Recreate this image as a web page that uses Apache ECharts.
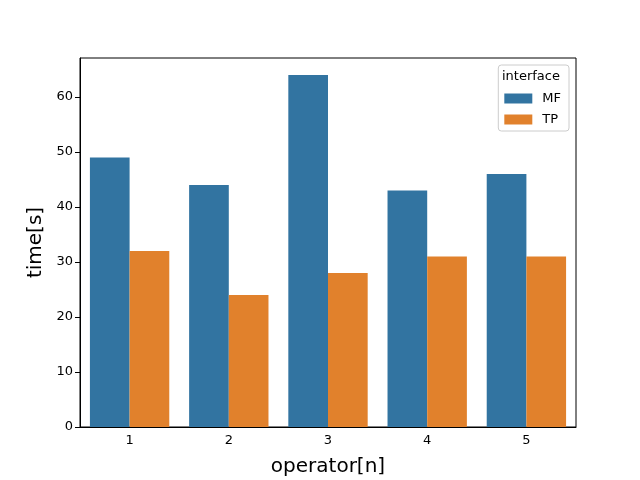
<!DOCTYPE html>
<html>
<head>
<meta charset="utf-8">
<script src="https://cdn.jsdelivr.net/npm/echarts@6/dist/echarts.min.js"></script>
<style>
  html, body { margin: 0; padding: 0; background: #fff; }
  #chart { width: 640px; height: 480px; }
</style>
</head>
<body>
<div id="chart"></div>
<script>
const operators = ['1', '2', '3', '4', '5'];
const mfTimes = [49, 44, 64, 43, 46];
const tpTimes = [32, 24, 28, 31, 31];
const yTicks = [0, 10, 20, 30, 40, 50, 60];

const font = 'DejaVu Sans';
const chart = echarts.init(document.getElementById('chart'));

chart.setOption({
    animation: false,
    textStyle: { fontFamily: font },
    grid: {
        left: 80, right: 64, top: 58, bottom: 53,
        outerBoundsMode: 'none',
        show: true, borderColor: '#000', borderWidth: 1
    },
    title: {
        text: 'interface',
        left: 502, top: 70,
        padding: 0,
        textStyle: { fontFamily: font, fontSize: 13, fontWeight: 'normal', color: '#000' }
    },
    legend: {
        orient: 'vertical',
        right: 71, top: 65,
        padding: [27, 8, 5, 6],
        itemWidth: 28, itemHeight: 10, itemGap: 8,
        borderColor: '#ccc', borderWidth: 1, borderRadius: 3,
        icon: 'rect',
        textStyle: { fontFamily: font, fontSize: 13, color: '#000', padding: [0, 0, 0, 5] },
        data: ['MF', 'TP']
    },
    xAxis: {
        type: 'category',
        data: operators,
        name: 'operator[n]',
        nameLocation: 'middle',
        nameGap: 30,
        nameTextStyle: { fontFamily: font, fontSize: 20, color: '#000' },
        axisLine: { lineStyle: { color: '#000' } },
        axisTick: { alignWithLabel: true, length: 5, lineStyle: { color: '#000' } },
        axisLabel: { fontSize: 13, color: '#000', margin: 7 }
    },
    yAxis: {
        type: 'value',
        min: 0, max: 67.1,
        name: 'time[s]',
        nameLocation: 'middle',
        nameGap: 32,
        nameTextStyle: { fontFamily: font, fontSize: 20, color: '#000' },
        splitLine: { show: false },
        axisLine: { show: true, lineStyle: { color: '#000' } },
        axisTick: { show: true, length: 5, customValues: yTicks, lineStyle: { color: '#000' } },
        axisLabel: { fontSize: 13, color: '#000', margin: 7, customValues: yTicks }
    },
    series: [
        {
            name: 'MF', type: 'bar', data: mfTimes,
            barGap: '0%', barCategoryGap: '20%',
            itemStyle: { color: '#3274a1' }
        },
        {
            name: 'TP', type: 'bar', data: tpTimes,
            barGap: '0%', barCategoryGap: '20%',
            itemStyle: { color: '#e1812c' }
        }
    ]
});
</script>
</body>
</html>
